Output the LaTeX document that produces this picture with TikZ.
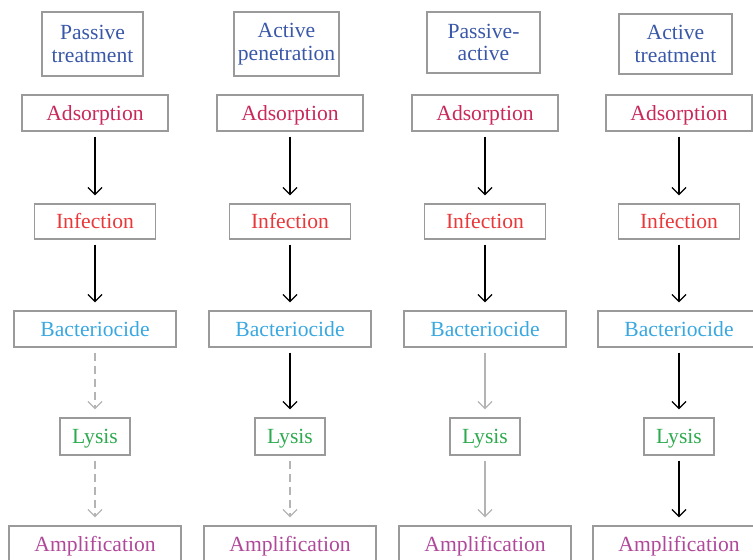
\documentclass[tikz,border=0pt]{standalone}
\usepackage{fontspec}
\setmainfont{Liberation Serif}
\usetikzlibrary{arrows.meta}
\definecolor{boxgray}{HTML}{9A9A9A}
\definecolor{lightarr}{HTML}{B4B4B4}
\definecolor{headC}{HTML}{3A58A8}
\definecolor{adsC}{HTML}{C8285A}
\definecolor{infC}{HTML}{E8383A}
\definecolor{bacC}{HTML}{3AA8E0}
\definecolor{lysC}{HTML}{2EAA4E}
\definecolor{ampC}{HTML}{B0489A}
\tikzset{
  box/.style={draw=boxgray, line width=0.7pt, inner sep=0pt, font=\fontsize{10.8}{11.2}\selectfont, align=center},
  head/.style={box, text=headC, minimum height=32pt},
  stage/.style={box, text height=7.6pt, text depth=0.6pt},
  ads/.style={stage, text=adsC, minimum width=73pt, minimum height=18pt},
  inf/.style={stage, text=infC, minimum width=60.5pt, minimum height=17.5pt},
  bac/.style={stage, text=bacC, minimum width=81pt, minimum height=18pt},
  lys/.style={stage, text=lysC, minimum width=35pt, minimum height=18.5pt},
  amp/.style={stage, text=ampC, minimum width=86pt, minimum height=18pt},
  flow/.style={line width=0.6pt, -{Straight Barb[length=3.5pt,width=7pt]}, shorten <=2.5pt, shorten >=4pt},
  strong/.style={flow, draw=black},
  faint/.style={flow, draw=lightarr},
  faintdash/.style={faint, dash pattern=on 4pt off 2.5pt}
}
\begin{document}
\begin{tikzpicture}[x=0.5pt,y=-0.5pt]
\useasboundingbox (0,0) rectangle (753,559);
% column headings
\node[head, minimum width=50.5pt] (h1) at (92.5,44) {Passive\\treatment};
\node[head, minimum width=52.5pt] (h2) at (286.5,44) {Active\\penetration};
\node[head, minimum width=56.5pt, minimum height=30.5pt] (h3) at (483.5,42.5) {Passive-\\active};
\node[head, minimum width=56.5pt, minimum height=30pt] (h4) at (675.5,44) {Active\\treatment};
% stages of each column
\foreach \i/\cx in {1/95, 2/290, 3/485, 4/679} {
  \node[ads] (a\i) at (\cx,113) {Adsorption};
  \node[inf] (i\i) at (\cx,221.5) {Infection};
  \node[bac] (b\i) at (\cx,329) {Bacteriocide};
  \node[lys] (l\i) at (\cx,436.5) {Lysis};
  \node[amp] (m\i) at (\cx,544) {Amplification};
  \draw[strong] (a\i) -- (i\i);
  \draw[strong] (i\i) -- (b\i);
}
% later steps: passive treatment
\draw[faintdash] (b1) -- (l1);
\draw[faintdash] (l1) -- (m1);
% active penetration
\draw[strong] (b2) -- (l2);
\draw[faintdash] (l2) -- (m2);
% passive-active
\draw[faint] (b3) -- (l3);
\draw[faint] (l3) -- (m3);
% active treatment
\draw[strong] (b4) -- (l4);
\draw[strong] (l4) -- (m4);
\end{tikzpicture}
\end{document}
